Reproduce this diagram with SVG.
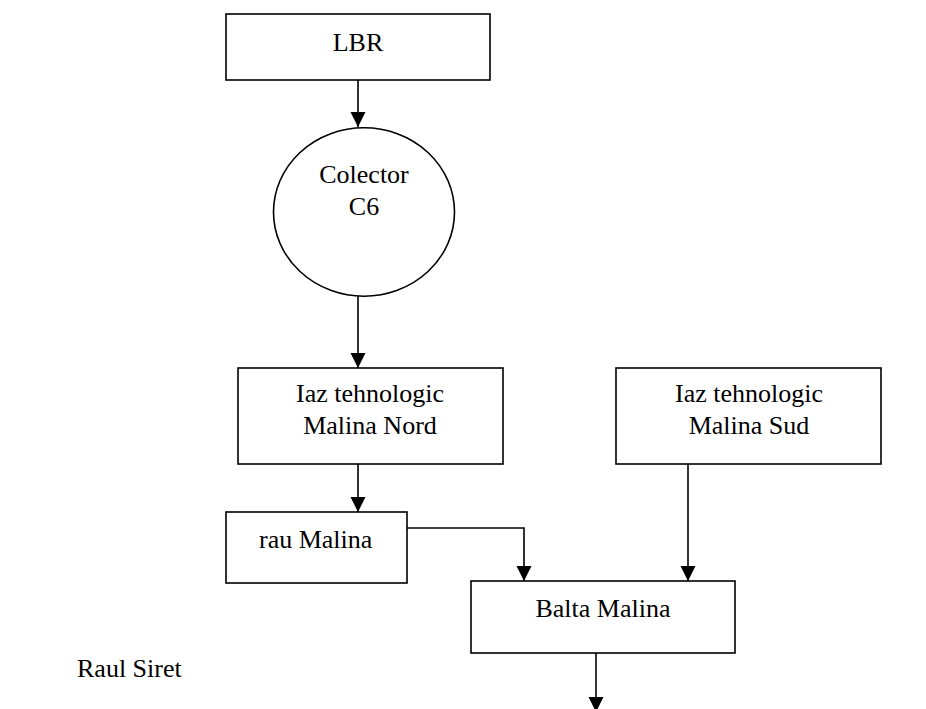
<svg xmlns="http://www.w3.org/2000/svg" width="926" height="709" viewBox="0 0 926 709">
<style>
.box{fill:#fff;stroke:#000;stroke-width:1.6}
.t{font-family:"Liberation Serif","Times New Roman",serif;font-size:26px;fill:#000}
.c{text-anchor:middle}
.conn{fill:none;stroke:#000;stroke-width:1.6}
</style>
<defs>
<marker id="ah" markerUnits="userSpaceOnUse" markerWidth="16" markerHeight="16" refX="15" refY="7.5" orient="auto">
<path d="M0,0 L15,7.5 L0,15 z" fill="#000"/>
</marker>
</defs>
<rect width="926" height="709" fill="#fff"/>
<g id="connectors">
<path class="conn" d="M358,80 V127" marker-end="url(#ah)"/>
<path class="conn" d="M358,296 V368" marker-end="url(#ah)"/>
<path class="conn" d="M358,464 V512" marker-end="url(#ah)"/>
<path class="conn" d="M407,528 H524 V581" marker-end="url(#ah)"/>
<path class="conn" d="M688,464 V581" marker-end="url(#ah)"/>
<path class="conn" d="M596,653 V712" marker-end="url(#ah)"/>
</g>
<g id="lbr">
<rect class="box" x="226" y="14" width="264" height="66"/>
<text class="t c" x="358" y="51">LBR</text>
</g>
<g id="colector">
<ellipse class="box" cx="364" cy="212" rx="90.5" ry="84.2"/>
<text class="t c" x="364" y="183">Colector</text>
<text class="t c" x="364" y="215">C6</text>
</g>
<g id="iaz-nord">
<rect class="box" x="238" y="368" width="265" height="96"/>
<text class="t c" x="370" y="402">Iaz tehnologic</text>
<text class="t c" x="370" y="434">Malina Nord</text>
</g>
<g id="iaz-sud">
<rect class="box" x="616" y="368" width="265" height="96"/>
<text class="t c" x="749" y="402">Iaz tehnologic</text>
<text class="t c" x="749" y="434">Malina Sud</text>
</g>
<g id="rau-malina">
<rect class="box" x="226" y="512" width="181" height="71"/>
<text class="t" x="259" y="548">rau Malina</text>
</g>
<g id="balta-malina">
<rect class="box" x="471" y="581" width="264" height="72"/>
<text class="t c" x="603" y="617">Balta Malina</text>
</g>
<g id="raul-siret">
<text class="t" x="77" y="677">Raul Siret</text>
</g>
</svg>
